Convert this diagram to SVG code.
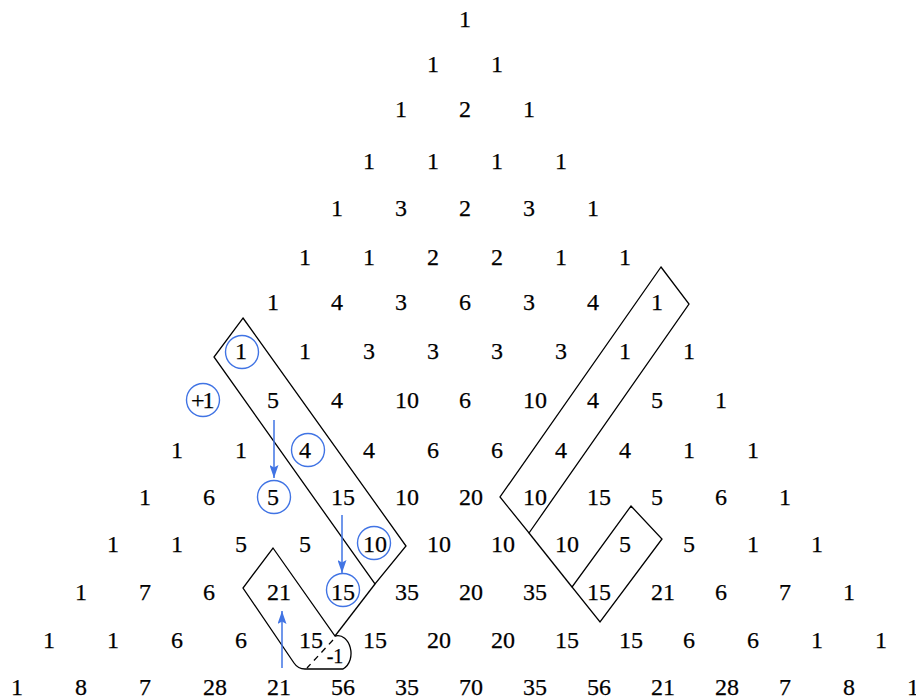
<svg xmlns="http://www.w3.org/2000/svg" width="916" height="700" viewBox="0 0 916 700">
<style>
.c{fill:none;stroke:#4174e4;stroke-width:1.4}
.o{fill:none;stroke:#000;stroke-width:1.3;stroke-linejoin:miter}
.a{stroke:#4174e4;stroke-width:1.5;fill:none}
</style>
<defs>
<marker id="ah" markerUnits="userSpaceOnUse" markerWidth="13" markerHeight="9" refX="13" refY="4.5" orient="auto" viewBox="0 0 13 9">
<path d="M0,0 L13,4.5 L0,9 L2.5,4.5 Z" fill="#4174e4"/>
</marker>
</defs>
<rect width="916" height="700" fill="#fff"/>
<g style="font-family:'Liberation Serif',serif;font-size:24px" fill="#000" stroke="#000" stroke-width="0.25">
<g id="row0"><text x="459" y="27">1</text></g>
<g id="row1"><text x="427" y="71.5">1</text><text x="491" y="71.5">1</text></g>
<g id="row2"><text x="395" y="117">1</text><text x="459" y="117">2</text><text x="523" y="117">1</text></g>
<g id="row3"><text x="363" y="169">1</text><text x="427" y="169">1</text><text x="491" y="169">1</text><text x="555" y="169">1</text></g>
<g id="row4"><text x="331" y="216">1</text><text x="395" y="216">3</text><text x="459" y="216">2</text><text x="523" y="216">3</text><text x="587" y="216">1</text></g>
<g id="row5"><text x="299" y="265">1</text><text x="363" y="265">1</text><text x="427" y="265">2</text><text x="491" y="265">2</text><text x="555" y="265">1</text><text x="619" y="265">1</text></g>
<g id="row6"><text x="267" y="310">1</text><text x="331" y="310">4</text><text x="395" y="310">3</text><text x="459" y="310">6</text><text x="523" y="310">3</text><text x="587" y="310">4</text><text x="651" y="310">1</text></g>
<g id="row7"><text x="235" y="359">1</text><text x="299" y="359">1</text><text x="363" y="359">3</text><text x="427" y="359">3</text><text x="491" y="359">3</text><text x="555" y="359">3</text><text x="619" y="359">1</text><text x="683" y="359">1</text></g>
<g id="row8"><text x="191" y="408" letter-spacing="-2">+1</text><text x="267" y="408">5</text><text x="331" y="408">4</text><text x="395" y="408">10</text><text x="459" y="408">6</text><text x="523" y="408">10</text><text x="587" y="408">4</text><text x="651" y="408">5</text><text x="715" y="408">1</text></g>
<g id="row9"><text x="171" y="458">1</text><text x="235" y="458">1</text><text x="299" y="458">4</text><text x="363" y="458">4</text><text x="427" y="458">6</text><text x="491" y="458">6</text><text x="555" y="458">4</text><text x="619" y="458">4</text><text x="683" y="458">1</text><text x="747" y="458">1</text></g>
<g id="row10"><text x="139" y="505">1</text><text x="203" y="505">6</text><text x="267" y="505">5</text><text x="331" y="505">15</text><text x="395" y="505">10</text><text x="459" y="505">20</text><text x="523" y="505">10</text><text x="587" y="505">15</text><text x="651" y="505">5</text><text x="715" y="505">6</text><text x="779" y="505">1</text></g>
<g id="row11"><text x="107" y="552">1</text><text x="171" y="552">1</text><text x="235" y="552">5</text><text x="299" y="552">5</text><text x="363" y="552">10</text><text x="427" y="552">10</text><text x="491" y="552">10</text><text x="555" y="552">10</text><text x="619" y="552">5</text><text x="683" y="552">5</text><text x="747" y="552">1</text><text x="811" y="552">1</text></g>
<g id="row12"><text x="75" y="600">1</text><text x="139" y="600">7</text><text x="203" y="600">6</text><text x="267" y="600">21</text><text x="331" y="600">15</text><text x="395" y="600">35</text><text x="459" y="600">20</text><text x="523" y="600">35</text><text x="587" y="600">15</text><text x="651" y="600">21</text><text x="715" y="600">6</text><text x="779" y="600">7</text><text x="843" y="600">1</text></g>
<g id="row13"><text x="43" y="648">1</text><text x="107" y="648">1</text><text x="171" y="648">6</text><text x="235" y="648">6</text><text x="299" y="648">15</text><text x="363" y="648">15</text><text x="427" y="648">20</text><text x="491" y="648">20</text><text x="555" y="648">15</text><text x="619" y="648">15</text><text x="683" y="648">6</text><text x="747" y="648">6</text><text x="811" y="648">1</text><text x="875" y="648">1</text></g>
<g id="row14"><text x="11" y="695">1</text><text x="75" y="695">8</text><text x="139" y="695">7</text><text x="203" y="695">28</text><text x="267" y="695">21</text><text x="331" y="695">56</text><text x="395" y="695">35</text><text x="459" y="695">70</text><text x="523" y="695">35</text><text x="587" y="695">56</text><text x="651" y="695">21</text><text x="715" y="695">28</text><text x="779" y="695">7</text><text x="843" y="695">8</text><text x="907" y="695">1</text></g>
<g id="minus-one"><text x="335" y="663" text-anchor="middle" style="font-size:20px">-1</text></g>
</g>
<g id="circles">
<circle class="c" cx="242" cy="352" r="16.5"/>
<circle class="c" cx="203" cy="400" r="16.5"/>
<circle class="c" cx="308" cy="450" r="16.5"/>
<circle class="c" cx="274" cy="497" r="16.5"/>
<circle class="c" cx="374" cy="543" r="16.5"/>
<circle class="c" cx="343" cy="590" r="16.5"/>
</g>
<g id="outlines">
<polygon class="o" points="243,318 406,546 375,584 214,357"/>
<line class="o" x1="375" y1="584" x2="335" y2="636"/>
<path class="o" d="M273,548 L335,636 C350,632 358,660 343,669 L305,669 C299,669 296,666 294,663 L243,588 Z"/>
<line class="o" x1="333" y1="640" x2="307" y2="668" stroke-dasharray="6,5"/>
<polygon class="o" points="661,267 689,304 529,533 500,497"/>
<line class="o" x1="529" y1="533" x2="572" y2="587"/>
<polygon class="o" points="631,506 662,539 600,622 572,587"/>
</g>
<g id="connectors">
<line class="a" x1="274" y1="420" x2="274" y2="478" marker-end="url(#ah)"/>
<line class="a" x1="342" y1="515" x2="342" y2="573" marker-end="url(#ah)"/>
<line class="a" x1="282" y1="668" x2="282" y2="611" marker-end="url(#ah)"/>
</g>
</svg>
